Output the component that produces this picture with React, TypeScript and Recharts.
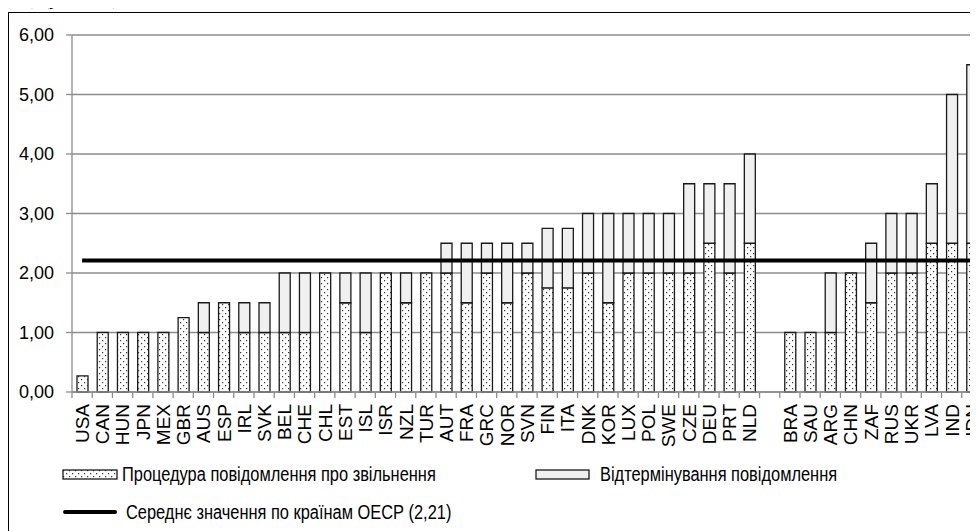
import React from 'react';
import { ComposedChart, Bar, Line, XAxis, YAxis, CartesianGrid } from 'recharts';

const countries = ['USA', 'CAN', 'HUN', 'JPN', 'MEX', 'GBR', 'AUS', 'ESP', 'IRL', 'SVK', 'BEL', 'CHE', 'CHL', 'EST', 'ISL', 'ISR', 'NZL', 'TUR', 'AUT', 'FRA', 'GRC', 'NOR', 'SVN', 'FIN', 'ITA', 'DNK', 'KOR', 'LUX', 'POL', 'SWE', 'CZE', 'DEU', 'PRT', 'NLD', '', 'BRA', 'SAU', 'ARG', 'CHN', 'ZAF', 'RUS', 'UKR', 'LVA', 'IND', 'IDN'];
// процедура повідомлення (dotted part)
const notice = [0.27, 1, 1, 1, 1, 1.25, 1, 1.5, 1, 1, 1, 1, 2, 1.5, 1, 2, 1.5, 2, 2, 1.5, 2, 1.5, 2, 1.75, 1.75, 2, 1.5, 2, 2, 2, 2, 2.5, 2, 2.5, null, 1, 1, 1, 2, 1.5, 2, 2, 2.5, 2.5, 2.5];
// відтермінування (light part)
const delay = [0, 0, 0, 0, 0, 0, 0.5, 0, 0.5, 0.5, 1, 1, 0, 0.5, 1, 0, 0.5, 0, 0.5, 1, 0.5, 1, 0.5, 1, 1, 1, 1.5, 1, 1, 1, 1.5, 1, 1.5, 1.5, null, 0, 0, 1, 0, 1, 1, 1, 1, 2.5, 3];
const oecdMean = 2.21;
const yTicks = [0, 1, 2, 3, 4, 5, 6];

const data = countries.map((c, i) => ({ country: c, notice: notice[i], delay: delay[i], mean: oecdMean }));

const CHART_W = 1000;
const Y_AXIS_W = 64;
const MARGIN = { top: 23, right: 26, bottom: 20, left: 0 };
const BAND = (CHART_W - Y_AXIS_W - MARGIN.left - MARGIN.right) / countries.length;
const GRID = '#8c8c8c';
const AXIS_FONT = "'Liberation Sans', Arimo, Arial, sans-serif";

const CountryTick = (props: any) => {
  const { x, y, payload } = props;
  const axisY = y - 12; // tickSize 6 + tickMargin 6
  return (
    <g>
      <line x1={x - BAND / 2} x2={x - BAND / 2} y1={axisY} y2={axisY + 6} stroke={GRID} strokeWidth={1.3} />
      <text
        transform={`translate(${x},${y}) rotate(-90)`}
        textAnchor="end"
        dy="0.36em"
        fontSize={19}
        fontFamily={AXIS_FONT}
        fill="#000"
      >
        {payload.value}
      </text>
    </g>
  );
};

const legendText: React.CSSProperties = {
  position: 'absolute',
  fontFamily: AXIS_FONT,
  fontSize: 20,
  lineHeight: '24px',
  whiteSpace: 'nowrap',
  transform: 'scaleX(0.82)',
  transformOrigin: 'left center',
};

export default function App() {
  return (
    <div style={{ position: 'relative', width: 970, height: 523 }}>
      <div style={{ position: 'absolute', top: -21, left: 23, fontFamily: "'Liberation Serif', serif", fontSize: 20, lineHeight: '20px', whiteSpace: 'nowrap' }}>
        ) (у балах)
      </div>
      <div style={{ position: 'absolute', left: 0, top: 0, width: 970, height: 523, overflow: 'hidden' }}>
        <div style={{ position: 'absolute', left: 0, top: 4, width: 1000, height: 600, border: '1.5px solid #000', boxSizing: 'border-box' }} />
        <div style={{ position: 'absolute', left: 0, top: 4 }}>
          <ComposedChart width={CHART_W} height={470} data={data} margin={MARGIN} barSize={11}>
            <defs>
              <pattern id="dots" patternUnits="userSpaceOnUse" width={6} height={6}>
                <rect width={6} height={6} fill="#fff" />
                <rect x={1} y={1} width={1.2} height={1.2} fill="#333" />
                <rect x={4} y={4} width={1.2} height={1.2} fill="#333" />
              </pattern>
            </defs>
            <CartesianGrid vertical={false} stroke={GRID} strokeWidth={1.3} />
            <XAxis
              dataKey="country"
              interval={0}
              height={70}
              tickSize={6}
              tickMargin={6}
              tickLine={false}
              axisLine={{ stroke: GRID, strokeWidth: 1.3 }}
              tick={<CountryTick />}
            />
            <YAxis
              width={Y_AXIS_W}
              domain={[0, 6]}
              ticks={yTicks}
              interval={0}
              tickSize={6}
              tickMargin={12}
              axisLine={{ stroke: GRID, strokeWidth: 1.3 }}
              tickLine={{ stroke: GRID, strokeWidth: 1.3 }}
              tick={{ fill: '#000', fontSize: 18, fontFamily: AXIS_FONT }}
              tickFormatter={(v: number) => v.toFixed(2).replace('.', ',')}
            />
            <Bar dataKey="notice" stackId="a" fill="url(#dots)" stroke="#1a1a1a" strokeWidth={1.3} isAnimationActive={false} />
            <Bar dataKey="delay" stackId="a" fill="#f0f0f0" stroke="#1a1a1a" strokeWidth={1.3} isAnimationActive={false} />
            <Line dataKey="mean" type="linear" stroke="#000" strokeWidth={4} dot={false} activeDot={false} isAnimationActive={false} />
          </ComposedChart>
        </div>

        {/* legend */}
        <svg width={56} height={11} style={{ position: 'absolute', left: 54, top: 461 }}>
          <rect x={1} y={1} width={54} height={9} fill="url(#dots)" stroke="#1a1a1a" strokeWidth={1.3} />
        </svg>
        <div style={{ ...legendText, left: 114, top: 454 }}>Процедура повідомлення про звільнення</div>
        <svg width={55} height={11} style={{ position: 'absolute', left: 527, top: 461 }}>
          <rect x={1} y={1} width={53} height={9} fill="#f0f0f0" stroke="#1a1a1a" strokeWidth={1.3} />
        </svg>
        <div style={{ ...legendText, left: 592, top: 454 }}>Відтермінування повідомлення</div>
        <div style={{ position: 'absolute', left: 55, top: 502, width: 54, height: 4, background: '#000', borderRadius: 2 }} />
        <div style={{ ...legendText, left: 118, top: 492 }}>Середнє значення по країнам ОЕСР (2,21)</div>
      </div>
    </div>
  );
}
